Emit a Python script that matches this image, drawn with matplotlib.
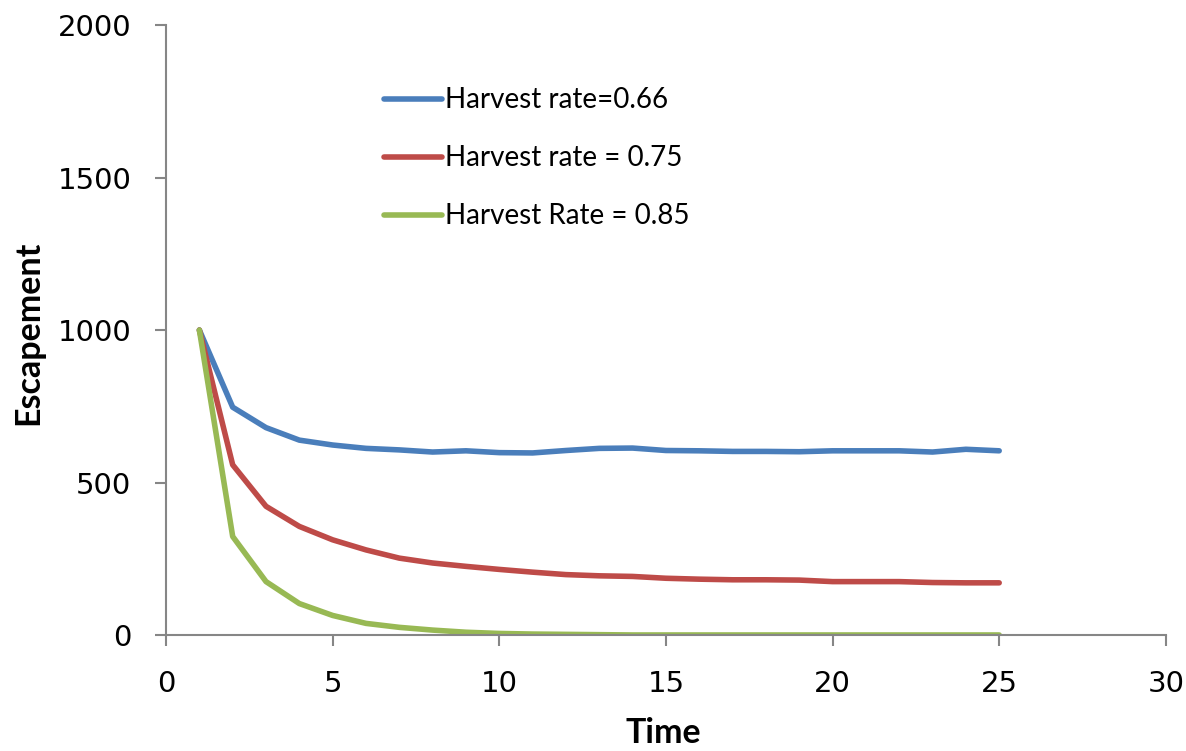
import matplotlib
matplotlib.use("Agg")
import matplotlib.pyplot as plt

time = list(range(1, 26))

rate_066 = [1000, 747, 680, 639, 623, 612, 607, 600, 604, 598,
            597, 605, 612, 613, 605, 604, 602, 602, 601, 604,
            604, 604, 600, 609, 604]
rate_075 = [1000, 558, 422, 356, 312, 279, 252, 236, 225, 215,
            206, 198, 194, 192, 186, 183, 181, 181, 180, 175,
            175, 175, 172, 171, 171]
rate_085 = [1000, 323, 175, 103, 64, 38, 25, 16, 9, 5,
            3, 2, 1, 0, 0, 0, 0, 0, 0, 0,
            0, 0, 0, 0, 0]

labels = ["Harvest rate=0.66", "Harvest rate = 0.75", "Harvest Rate = 0.85"]
colors = ["#4A7EBB", "#BE4B48", "#98B954"]

fig = plt.figure(figsize=(11.86, 7.51), dpi=100)
ax = fig.add_axes([0.14, 0.1545, 0.843, 0.812])

for series, label, color in zip([rate_066, rate_075, rate_085], labels, colors):
    ax.plot(time, series, color=color, linewidth=4, label=label,
            solid_capstyle="round", solid_joinstyle="round")

ax.set_xlim(0, 30)
ax.set_ylim(0, 2000)
ax.set_xticks(range(0, 31, 5))
ax.set_yticks(range(0, 2001, 500))

for side in ["top", "right"]:
    ax.spines[side].set_visible(False)
for side in ["left", "bottom"]:
    ax.spines[side].set_color("#868686")
    ax.spines[side].set_linewidth(1.5)

ax.tick_params(axis="both", direction="out", length=8, width=1.5,
               color="#868686", labelsize=21, pad=17)

# "Time" sits at the very bottom edge, as in the reference, kept just inside
ax.set_xlabel("Time", fontsize=24.5, fontweight="bold", family="Lato", va="top")
ax.xaxis.set_label_coords(0.497, -0.134)
ax.set_ylabel("Escapement", fontsize=24.5, fontweight="bold", family="Lato", va="center")
ax.yaxis.set_label_coords(-0.138, 0.495)

ax.legend(loc="upper left", bbox_to_anchor=(0.218, 0.898), frameon=False,
          prop={"family": "Lato", "size": 20}, handlelength=2.09,
          handletextpad=0.1, labelspacing=1.15, borderpad=0, borderaxespad=0)

fig.savefig("out.png", dpi=100)
